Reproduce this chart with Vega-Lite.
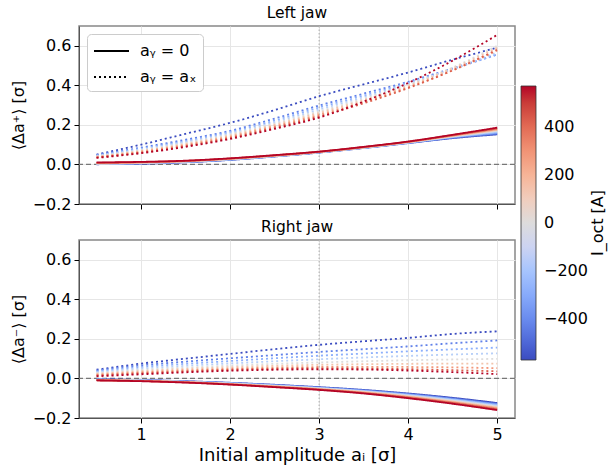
{
  "$schema": "https://vega.github.io/schema/vega-lite/v6.json",
  "padding": {"left": 9, "top": 5, "right": 5, "bottom": 5},
  "config": {
    "font": "DejaVu Sans",
    "view": {"stroke": "#888", "strokeWidth": 1.5},
    "title": {"fontSize": 15.5, "fontWeight": "normal", "offset": 4, "color": "black"},
    "axis": {"labelFontSize": 16, "titleFontSize": 16, "titleFontWeight": "normal", "labelColor": "black", "titleColor": "black", "domainColor": "#555", "tickColor": "black", "gridColor": "#e6e6e6", "gridWidth": 1, "tickSize": 5, "labelPadding": 3},
    "legend": {"labelFont": "DejaVu Sans", "titleFont": "DejaVu Sans"}
  },
  "datasets": {
    "refx": [{"x": 3}],
    "refy": [{"y": 0}],
    "left": [
      {"I":-570,"ay":"0","x":0.5,"y":0.001},{"I":-570,"ay":"0","x":1,"y":0.004},{"I":-570,"ay":"0","x":1.5,"y":0.011},{"I":-570,"ay":"0","x":2,"y":0.023},{"I":-570,"ay":"0","x":2.5,"y":0.040},{"I":-570,"ay":"0","x":3,"y":0.060},{"I":-570,"ay":"0","x":3.5,"y":0.083},{"I":-570,"ay":"0","x":4,"y":0.108},{"I":-570,"ay":"0","x":4.5,"y":0.133},{"I":-570,"ay":"0","x":5,"y":0.152},
      {"I":-427,"ay":"0","x":0.5,"y":0.002},{"I":-427,"ay":"0","x":1,"y":0.005},{"I":-427,"ay":"0","x":1.5,"y":0.012},{"I":-427,"ay":"0","x":2,"y":0.024},{"I":-427,"ay":"0","x":2.5,"y":0.041},{"I":-427,"ay":"0","x":3,"y":0.061},{"I":-427,"ay":"0","x":3.5,"y":0.084},{"I":-427,"ay":"0","x":4,"y":0.109},{"I":-427,"ay":"0","x":4.5,"y":0.135},{"I":-427,"ay":"0","x":5,"y":0.156},
      {"I":-285,"ay":"0","x":0.5,"y":0.002},{"I":-285,"ay":"0","x":1,"y":0.006},{"I":-285,"ay":"0","x":1.5,"y":0.013},{"I":-285,"ay":"0","x":2,"y":0.025},{"I":-285,"ay":"0","x":2.5,"y":0.042},{"I":-285,"ay":"0","x":3,"y":0.061},{"I":-285,"ay":"0","x":3.5,"y":0.084},{"I":-285,"ay":"0","x":4,"y":0.110},{"I":-285,"ay":"0","x":4.5,"y":0.138},{"I":-285,"ay":"0","x":5,"y":0.161},
      {"I":-142,"ay":"0","x":0.5,"y":0.003},{"I":-142,"ay":"0","x":1,"y":0.007},{"I":-142,"ay":"0","x":1.5,"y":0.014},{"I":-142,"ay":"0","x":2,"y":0.026},{"I":-142,"ay":"0","x":2.5,"y":0.042},{"I":-142,"ay":"0","x":3,"y":0.062},{"I":-142,"ay":"0","x":3.5,"y":0.085},{"I":-142,"ay":"0","x":4,"y":0.111},{"I":-142,"ay":"0","x":4.5,"y":0.140},{"I":-142,"ay":"0","x":5,"y":0.166},
      {"I":0,"ay":"0","x":0.5,"y":0.004},{"I":0,"ay":"0","x":1,"y":0.008},{"I":0,"ay":"0","x":1.5,"y":0.015},{"I":0,"ay":"0","x":2,"y":0.027},{"I":0,"ay":"0","x":2.5,"y":0.043},{"I":0,"ay":"0","x":3,"y":0.062},{"I":0,"ay":"0","x":3.5,"y":0.085},{"I":0,"ay":"0","x":4,"y":0.112},{"I":0,"ay":"0","x":4.5,"y":0.142},{"I":0,"ay":"0","x":5,"y":0.170},
      {"I":142,"ay":"0","x":0.5,"y":0.005},{"I":142,"ay":"0","x":1,"y":0.009},{"I":142,"ay":"0","x":1.5,"y":0.016},{"I":142,"ay":"0","x":2,"y":0.028},{"I":142,"ay":"0","x":2.5,"y":0.044},{"I":142,"ay":"0","x":3,"y":0.063},{"I":142,"ay":"0","x":3.5,"y":0.086},{"I":142,"ay":"0","x":4,"y":0.113},{"I":142,"ay":"0","x":4.5,"y":0.144},{"I":142,"ay":"0","x":5,"y":0.174},
      {"I":285,"ay":"0","x":0.5,"y":0.007},{"I":285,"ay":"0","x":1,"y":0.011},{"I":285,"ay":"0","x":1.5,"y":0.017},{"I":285,"ay":"0","x":2,"y":0.029},{"I":285,"ay":"0","x":2.5,"y":0.045},{"I":285,"ay":"0","x":3,"y":0.064},{"I":285,"ay":"0","x":3.5,"y":0.087},{"I":285,"ay":"0","x":4,"y":0.114},{"I":285,"ay":"0","x":4.5,"y":0.146},{"I":285,"ay":"0","x":5,"y":0.178},
      {"I":427,"ay":"0","x":0.5,"y":0.008},{"I":427,"ay":"0","x":1,"y":0.012},{"I":427,"ay":"0","x":1.5,"y":0.018},{"I":427,"ay":"0","x":2,"y":0.030},{"I":427,"ay":"0","x":2.5,"y":0.046},{"I":427,"ay":"0","x":3,"y":0.064},{"I":427,"ay":"0","x":3.5,"y":0.088},{"I":427,"ay":"0","x":4,"y":0.115},{"I":427,"ay":"0","x":4.5,"y":0.148},{"I":427,"ay":"0","x":5,"y":0.182},
      {"I":570,"ay":"0","x":0.5,"y":0.010},{"I":570,"ay":"0","x":1,"y":0.013},{"I":570,"ay":"0","x":1.5,"y":0.019},{"I":570,"ay":"0","x":2,"y":0.031},{"I":570,"ay":"0","x":2.5,"y":0.047},{"I":570,"ay":"0","x":3,"y":0.065},{"I":570,"ay":"0","x":3.5,"y":0.089},{"I":570,"ay":"0","x":4,"y":0.116},{"I":570,"ay":"0","x":4.5,"y":0.150},{"I":570,"ay":"0","x":5,"y":0.186},
      {"I":-570,"ay":"ax","x":0.5,"y":0.050},{"I":-570,"ay":"ax","x":1,"y":0.100},{"I":-570,"ay":"ax","x":1.5,"y":0.155},{"I":-570,"ay":"ax","x":2,"y":0.210},{"I":-570,"ay":"ax","x":2.5,"y":0.275},{"I":-570,"ay":"ax","x":3,"y":0.345},{"I":-570,"ay":"ax","x":3.5,"y":0.405},{"I":-570,"ay":"ax","x":4,"y":0.465},{"I":-570,"ay":"ax","x":4.5,"y":0.530},{"I":-570,"ay":"ax","x":5,"y":0.590},
      {"I":-427,"ay":"ax","x":0.5,"y":0.047},{"I":-427,"ay":"ax","x":1,"y":0.085},{"I":-427,"ay":"ax","x":1.5,"y":0.125},{"I":-427,"ay":"ax","x":2,"y":0.170},{"I":-427,"ay":"ax","x":2.5,"y":0.232},{"I":-427,"ay":"ax","x":3,"y":0.298},{"I":-427,"ay":"ax","x":3.5,"y":0.358},{"I":-427,"ay":"ax","x":4,"y":0.418},{"I":-427,"ay":"ax","x":4.5,"y":0.486},{"I":-427,"ay":"ax","x":5,"y":0.556},
      {"I":-285,"ay":"ax","x":0.5,"y":0.045},{"I":-285,"ay":"ax","x":1,"y":0.080},{"I":-285,"ay":"ax","x":1.5,"y":0.118},{"I":-285,"ay":"ax","x":2,"y":0.163},{"I":-285,"ay":"ax","x":2.5,"y":0.222},{"I":-285,"ay":"ax","x":3,"y":0.288},{"I":-285,"ay":"ax","x":3.5,"y":0.348},{"I":-285,"ay":"ax","x":4,"y":0.412},{"I":-285,"ay":"ax","x":4.5,"y":0.482},{"I":-285,"ay":"ax","x":5,"y":0.556},
      {"I":-142,"ay":"ax","x":0.5,"y":0.043},{"I":-142,"ay":"ax","x":1,"y":0.076},{"I":-142,"ay":"ax","x":1.5,"y":0.113},{"I":-142,"ay":"ax","x":2,"y":0.157},{"I":-142,"ay":"ax","x":2.5,"y":0.214},{"I":-142,"ay":"ax","x":3,"y":0.278},{"I":-142,"ay":"ax","x":3.5,"y":0.340},{"I":-142,"ay":"ax","x":4,"y":0.407},{"I":-142,"ay":"ax","x":4.5,"y":0.482},{"I":-142,"ay":"ax","x":5,"y":0.565},
      {"I":0,"ay":"ax","x":0.5,"y":0.041},{"I":0,"ay":"ax","x":1,"y":0.072},{"I":0,"ay":"ax","x":1.5,"y":0.108},{"I":0,"ay":"ax","x":2,"y":0.152},{"I":0,"ay":"ax","x":2.5,"y":0.207},{"I":0,"ay":"ax","x":3,"y":0.268},{"I":0,"ay":"ax","x":3.5,"y":0.332},{"I":0,"ay":"ax","x":4,"y":0.402},{"I":0,"ay":"ax","x":4.5,"y":0.490},{"I":0,"ay":"ax","x":5,"y":0.600},
      {"I":142,"ay":"ax","x":0.5,"y":0.039},{"I":142,"ay":"ax","x":1,"y":0.068},{"I":142,"ay":"ax","x":1.5,"y":0.103},{"I":142,"ay":"ax","x":2,"y":0.146},{"I":142,"ay":"ax","x":2.5,"y":0.200},{"I":142,"ay":"ax","x":3,"y":0.260},{"I":142,"ay":"ax","x":3.5,"y":0.325},{"I":142,"ay":"ax","x":4,"y":0.397},{"I":142,"ay":"ax","x":4.5,"y":0.485},{"I":142,"ay":"ax","x":5,"y":0.590},
      {"I":285,"ay":"ax","x":0.5,"y":0.037},{"I":285,"ay":"ax","x":1,"y":0.064},{"I":285,"ay":"ax","x":1.5,"y":0.098},{"I":285,"ay":"ax","x":2,"y":0.140},{"I":285,"ay":"ax","x":2.5,"y":0.193},{"I":285,"ay":"ax","x":3,"y":0.251},{"I":285,"ay":"ax","x":3.5,"y":0.316},{"I":285,"ay":"ax","x":4,"y":0.390},{"I":285,"ay":"ax","x":4.5,"y":0.475},{"I":285,"ay":"ax","x":5,"y":0.575},
      {"I":427,"ay":"ax","x":0.5,"y":0.035},{"I":427,"ay":"ax","x":1,"y":0.060},{"I":427,"ay":"ax","x":1.5,"y":0.093},{"I":427,"ay":"ax","x":2,"y":0.134},{"I":427,"ay":"ax","x":2.5,"y":0.186},{"I":427,"ay":"ax","x":3,"y":0.243},{"I":427,"ay":"ax","x":3.5,"y":0.309},{"I":427,"ay":"ax","x":4,"y":0.386},{"I":427,"ay":"ax","x":4.5,"y":0.476},{"I":427,"ay":"ax","x":5,"y":0.580},
      {"I":570,"ay":"ax","x":0.5,"y":0.033},{"I":570,"ay":"ax","x":1,"y":0.057},{"I":570,"ay":"ax","x":1.5,"y":0.089},{"I":570,"ay":"ax","x":2,"y":0.129},{"I":570,"ay":"ax","x":2.5,"y":0.180},{"I":570,"ay":"ax","x":3,"y":0.237},{"I":570,"ay":"ax","x":3.5,"y":0.318},{"I":570,"ay":"ax","x":4,"y":0.412},{"I":570,"ay":"ax","x":4.5,"y":0.525},{"I":570,"ay":"ax","x":5,"y":0.655}
    ],
    "right": [
      {"I":-570,"ay":"0","x":0.5,"y":-0.004},{"I":-570,"ay":"0","x":1,"y":-0.008},{"I":-570,"ay":"0","x":1.5,"y":-0.014},{"I":-570,"ay":"0","x":2,"y":-0.022},{"I":-570,"ay":"0","x":2.5,"y":-0.032},{"I":-570,"ay":"0","x":3,"y":-0.044},{"I":-570,"ay":"0","x":3.5,"y":-0.058},{"I":-570,"ay":"0","x":4,"y":-0.076},{"I":-570,"ay":"0","x":4.5,"y":-0.098},{"I":-570,"ay":"0","x":5,"y":-0.124},
      {"I":-427,"ay":"0","x":0.5,"y":-0.005},{"I":-427,"ay":"0","x":1,"y":-0.009},{"I":-427,"ay":"0","x":1.5,"y":-0.015},{"I":-427,"ay":"0","x":2,"y":-0.023},{"I":-427,"ay":"0","x":2.5,"y":-0.034},{"I":-427,"ay":"0","x":3,"y":-0.046},{"I":-427,"ay":"0","x":3.5,"y":-0.060},{"I":-427,"ay":"0","x":4,"y":-0.079},{"I":-427,"ay":"0","x":4.5,"y":-0.102},{"I":-427,"ay":"0","x":5,"y":-0.129},
      {"I":-285,"ay":"0","x":0.5,"y":-0.006},{"I":-285,"ay":"0","x":1,"y":-0.010},{"I":-285,"ay":"0","x":1.5,"y":-0.016},{"I":-285,"ay":"0","x":2,"y":-0.024},{"I":-285,"ay":"0","x":2.5,"y":-0.035},{"I":-285,"ay":"0","x":3,"y":-0.048},{"I":-285,"ay":"0","x":3.5,"y":-0.063},{"I":-285,"ay":"0","x":4,"y":-0.082},{"I":-285,"ay":"0","x":4.5,"y":-0.106},{"I":-285,"ay":"0","x":5,"y":-0.133},
      {"I":-142,"ay":"0","x":0.5,"y":-0.006},{"I":-142,"ay":"0","x":1,"y":-0.010},{"I":-142,"ay":"0","x":1.5,"y":-0.017},{"I":-142,"ay":"0","x":2,"y":-0.025},{"I":-142,"ay":"0","x":2.5,"y":-0.037},{"I":-142,"ay":"0","x":3,"y":-0.049},{"I":-142,"ay":"0","x":3.5,"y":-0.065},{"I":-142,"ay":"0","x":4,"y":-0.085},{"I":-142,"ay":"0","x":4.5,"y":-0.109},{"I":-142,"ay":"0","x":5,"y":-0.138},
      {"I":0,"ay":"0","x":0.5,"y":-0.007},{"I":0,"ay":"0","x":1,"y":-0.011},{"I":0,"ay":"0","x":1.5,"y":-0.018},{"I":0,"ay":"0","x":2,"y":-0.027},{"I":0,"ay":"0","x":2.5,"y":-0.038},{"I":0,"ay":"0","x":3,"y":-0.051},{"I":0,"ay":"0","x":3.5,"y":-0.067},{"I":0,"ay":"0","x":4,"y":-0.088},{"I":0,"ay":"0","x":4.5,"y":-0.113},{"I":0,"ay":"0","x":5,"y":-0.142},
      {"I":142,"ay":"0","x":0.5,"y":-0.008},{"I":142,"ay":"0","x":1,"y":-0.012},{"I":142,"ay":"0","x":1.5,"y":-0.018},{"I":142,"ay":"0","x":2,"y":-0.028},{"I":142,"ay":"0","x":2.5,"y":-0.040},{"I":142,"ay":"0","x":3,"y":-0.053},{"I":142,"ay":"0","x":3.5,"y":-0.069},{"I":142,"ay":"0","x":4,"y":-0.091},{"I":142,"ay":"0","x":4.5,"y":-0.117},{"I":142,"ay":"0","x":5,"y":-0.147},
      {"I":285,"ay":"0","x":0.5,"y":-0.009},{"I":285,"ay":"0","x":1,"y":-0.013},{"I":285,"ay":"0","x":1.5,"y":-0.019},{"I":285,"ay":"0","x":2,"y":-0.029},{"I":285,"ay":"0","x":2.5,"y":-0.041},{"I":285,"ay":"0","x":3,"y":-0.055},{"I":285,"ay":"0","x":3.5,"y":-0.072},{"I":285,"ay":"0","x":4,"y":-0.094},{"I":285,"ay":"0","x":4.5,"y":-0.121},{"I":285,"ay":"0","x":5,"y":-0.151},
      {"I":427,"ay":"0","x":0.5,"y":-0.009},{"I":427,"ay":"0","x":1,"y":-0.013},{"I":427,"ay":"0","x":1.5,"y":-0.020},{"I":427,"ay":"0","x":2,"y":-0.030},{"I":427,"ay":"0","x":2.5,"y":-0.043},{"I":427,"ay":"0","x":3,"y":-0.056},{"I":427,"ay":"0","x":3.5,"y":-0.074},{"I":427,"ay":"0","x":4,"y":-0.097},{"I":427,"ay":"0","x":4.5,"y":-0.124},{"I":427,"ay":"0","x":5,"y":-0.156},
      {"I":570,"ay":"0","x":0.5,"y":-0.010},{"I":570,"ay":"0","x":1,"y":-0.014},{"I":570,"ay":"0","x":1.5,"y":-0.021},{"I":570,"ay":"0","x":2,"y":-0.031},{"I":570,"ay":"0","x":2.5,"y":-0.044},{"I":570,"ay":"0","x":3,"y":-0.058},{"I":570,"ay":"0","x":3.5,"y":-0.076},{"I":570,"ay":"0","x":4,"y":-0.100},{"I":570,"ay":"0","x":4.5,"y":-0.128},{"I":570,"ay":"0","x":5,"y":-0.160},
      {"I":-570,"ay":"ax","x":0.5,"y":0.044},{"I":-570,"ay":"ax","x":1,"y":0.075},{"I":-570,"ay":"ax","x":1.5,"y":0.100},{"I":-570,"ay":"ax","x":2,"y":0.124},{"I":-570,"ay":"ax","x":2.5,"y":0.148},{"I":-570,"ay":"ax","x":3,"y":0.170},{"I":-570,"ay":"ax","x":3.5,"y":0.188},{"I":-570,"ay":"ax","x":4,"y":0.205},{"I":-570,"ay":"ax","x":4.5,"y":0.225},{"I":-570,"ay":"ax","x":5,"y":0.238},
      {"I":-427,"ay":"ax","x":0.5,"y":0.040},{"I":-427,"ay":"ax","x":1,"y":0.066},{"I":-427,"ay":"ax","x":1.5,"y":0.085},{"I":-427,"ay":"ax","x":2,"y":0.102},{"I":-427,"ay":"ax","x":2.5,"y":0.118},{"I":-427,"ay":"ax","x":3,"y":0.134},{"I":-427,"ay":"ax","x":3.5,"y":0.148},{"I":-427,"ay":"ax","x":4,"y":0.162},{"I":-427,"ay":"ax","x":4.5,"y":0.178},{"I":-427,"ay":"ax","x":5,"y":0.192},
      {"I":-285,"ay":"ax","x":0.5,"y":0.035},{"I":-285,"ay":"ax","x":1,"y":0.058},{"I":-285,"ay":"ax","x":1.5,"y":0.074},{"I":-285,"ay":"ax","x":2,"y":0.088},{"I":-285,"ay":"ax","x":2.5,"y":0.102},{"I":-285,"ay":"ax","x":3,"y":0.115},{"I":-285,"ay":"ax","x":3.5,"y":0.126},{"I":-285,"ay":"ax","x":4,"y":0.137},{"I":-285,"ay":"ax","x":4.5,"y":0.147},{"I":-285,"ay":"ax","x":5,"y":0.156},
      {"I":-142,"ay":"ax","x":0.5,"y":0.031},{"I":-142,"ay":"ax","x":1,"y":0.050},{"I":-142,"ay":"ax","x":1.5,"y":0.064},{"I":-142,"ay":"ax","x":2,"y":0.076},{"I":-142,"ay":"ax","x":2.5,"y":0.087},{"I":-142,"ay":"ax","x":3,"y":0.097},{"I":-142,"ay":"ax","x":3.5,"y":0.106},{"I":-142,"ay":"ax","x":4,"y":0.114},{"I":-142,"ay":"ax","x":4.5,"y":0.121},{"I":-142,"ay":"ax","x":5,"y":0.127},
      {"I":0,"ay":"ax","x":0.5,"y":0.027},{"I":0,"ay":"ax","x":1,"y":0.043},{"I":0,"ay":"ax","x":1.5,"y":0.055},{"I":0,"ay":"ax","x":2,"y":0.065},{"I":0,"ay":"ax","x":2.5,"y":0.074},{"I":0,"ay":"ax","x":3,"y":0.081},{"I":0,"ay":"ax","x":3.5,"y":0.087},{"I":0,"ay":"ax","x":4,"y":0.092},{"I":0,"ay":"ax","x":4.5,"y":0.096},{"I":0,"ay":"ax","x":5,"y":0.099},
      {"I":142,"ay":"ax","x":0.5,"y":0.023},{"I":142,"ay":"ax","x":1,"y":0.037},{"I":142,"ay":"ax","x":1.5,"y":0.048},{"I":142,"ay":"ax","x":2,"y":0.057},{"I":142,"ay":"ax","x":2.5,"y":0.064},{"I":142,"ay":"ax","x":3,"y":0.069},{"I":142,"ay":"ax","x":3.5,"y":0.072},{"I":142,"ay":"ax","x":4,"y":0.074},{"I":142,"ay":"ax","x":4.5,"y":0.075},{"I":142,"ay":"ax","x":5,"y":0.075},
      {"I":285,"ay":"ax","x":0.5,"y":0.019},{"I":285,"ay":"ax","x":1,"y":0.031},{"I":285,"ay":"ax","x":1.5,"y":0.041},{"I":285,"ay":"ax","x":2,"y":0.049},{"I":285,"ay":"ax","x":2.5,"y":0.055},{"I":285,"ay":"ax","x":3,"y":0.058},{"I":285,"ay":"ax","x":3.5,"y":0.059},{"I":285,"ay":"ax","x":4,"y":0.058},{"I":285,"ay":"ax","x":4.5,"y":0.056},{"I":285,"ay":"ax","x":5,"y":0.052},
      {"I":427,"ay":"ax","x":0.5,"y":0.015},{"I":427,"ay":"ax","x":1,"y":0.026},{"I":427,"ay":"ax","x":1.5,"y":0.036},{"I":427,"ay":"ax","x":2,"y":0.044},{"I":427,"ay":"ax","x":2.5,"y":0.049},{"I":427,"ay":"ax","x":3,"y":0.051},{"I":427,"ay":"ax","x":3.5,"y":0.050},{"I":427,"ay":"ax","x":4,"y":0.047},{"I":427,"ay":"ax","x":4.5,"y":0.042},{"I":427,"ay":"ax","x":5,"y":0.036},
      {"I":570,"ay":"ax","x":0.5,"y":0.011},{"I":570,"ay":"ax","x":1,"y":0.021},{"I":570,"ay":"ax","x":1.5,"y":0.031},{"I":570,"ay":"ax","x":2,"y":0.039},{"I":570,"ay":"ax","x":2.5,"y":0.044},{"I":570,"ay":"ax","x":3,"y":0.046},{"I":570,"ay":"ax","x":3.5,"y":0.045},{"I":570,"ay":"ax","x":4,"y":0.040},{"I":570,"ay":"ax","x":4.5,"y":0.032},{"I":570,"ay":"ax","x":5,"y":0.022}
    ]
  },
  "spacing": 6,
  "resolve": {"scale": {"color": "shared", "strokeDash": "shared"}, "legend": {"strokeDash": "independent", "color": "shared"}},
  "vconcat": [
    {
      "title": "Left jaw",
      "width": 436,
      "height": 178,
      "layer": [
        {
          "data": {"name": "refx"},
          "mark": {"type": "rule", "color": "#aaaaaa", "strokeDash": [1.5, 2], "strokeWidth": 1},
          "encoding": {"x": {"field": "x", "type": "quantitative", "scale": {"domain": [0.303, 5.2]}}}
        },
        {
          "data": {"name": "refy"},
          "mark": {"type": "rule", "color": "#777777", "strokeDash": [5, 3], "strokeWidth": 1.2},
          "encoding": {"y": {"field": "y", "type": "quantitative", "scale": {"domain": [-0.2, 0.7]}}}
        },
        {
          "data": {"name": "left"},
          "mark": {"type": "line", "strokeWidth": 1.8, "interpolate": "monotone", "clip": true},
          "encoding": {
            "x": {"field": "x", "type": "quantitative", "scale": {"domain": [0.303, 5.2], "nice": false, "zero": false},
              "axis": {"values": [1, 2, 3, 4, 5], "labels": false, "title": null, "grid": true}},
            "y": {"field": "y", "type": "quantitative", "scale": {"domain": [-0.2, 0.7], "nice": false, "zero": false},
              "axis": {"values": [-0.2, 0, 0.2, 0.4, 0.6], "format": ".1f", "title": "⟨Δa⁺⟩ [σ]", "titlePadding": 6, "grid": true}},
            "detail": {"field": "I", "type": "quantitative"},
            "color": {"field": "I", "type": "quantitative",
              "scale": {"domain": [-570, -456, -342, -228, -114, 0, 114, 228, 342, 456, 570], "range": ["#3b4cc0", "#5977e3", "#7b9ff9", "#9ebeff", "#c0d4f5", "#dddcdc", "#f2cbb7", "#f7ac8e", "#ee8468", "#d65244", "#b40426"]},
              "legend": {"orient": "none", "legendX": 442, "legendY": 60, "direction": "vertical", "gradientLength": 274, "gradientThickness": 15, "values": [-400, -200, 0, 200, 400], "format": "d", "labelFontSize": 16, "labelOffset": 8, "labelColor": "black", "title": "I_oct [A]", "titleOrient": "right", "titlePadding": 18, "titleFontSize": 16, "titleFontWeight": "normal", "titleColor": "black", "titleAnchor": "middle", "gradientStrokeColor": "#333", "gradientStrokeWidth": 0.8,
                "encode": {"title": {"update": {"angle": {"value": 270}, "baseline": {"value": "bottom"}}}}}},
            "strokeDash": {"field": "ay", "type": "nominal",
              "scale": {"domain": ["0", "ax"], "range": [[1, 0], [2, 3]]},
              "legend": {"orient": "top-left", "offset": 8, "title": null, "symbolType": "M-1,0H2.5", "symbolSize": 400, "symbolStrokeWidth": 1.8, "symbolStrokeColor": "black", "labelFontSize": 16, "labelColor": "black", "labelOffset": 25, "labelExpr": "datum.label == '0' ? 'aᵧ = 0' : 'aᵧ = aₓ'", "fillColor": "white", "strokeColor": "#cccccc", "padding": 6, "cornerRadius": 4, "rowPadding": 7}}
          }
        }
      ]
    },
    {
      "title": "Right jaw",
      "width": 436,
      "height": 178,
      "layer": [
        {
          "data": {"name": "refx"},
          "mark": {"type": "rule", "color": "#aaaaaa", "strokeDash": [1.5, 2], "strokeWidth": 1},
          "encoding": {"x": {"field": "x", "type": "quantitative", "scale": {"domain": [0.303, 5.2]}}}
        },
        {
          "data": {"name": "refy"},
          "mark": {"type": "rule", "color": "#777777", "strokeDash": [5, 3], "strokeWidth": 1.2},
          "encoding": {"y": {"field": "y", "type": "quantitative", "scale": {"domain": [-0.2, 0.7]}}}
        },
        {
          "data": {"name": "right"},
          "mark": {"type": "line", "strokeWidth": 1.8, "interpolate": "monotone", "clip": true},
          "encoding": {
            "x": {"field": "x", "type": "quantitative", "scale": {"domain": [0.303, 5.2], "nice": false, "zero": false},
              "axis": {"values": [1, 2, 3, 4, 5], "format": "d", "title": "Initial amplitude aᵢ [σ]", "titleFontSize": 18, "titlePadding": 4, "grid": true}},
            "y": {"field": "y", "type": "quantitative", "scale": {"domain": [-0.2, 0.7], "nice": false, "zero": false},
              "axis": {"values": [-0.2, 0, 0.2, 0.4, 0.6], "format": ".1f", "title": "⟨Δa⁻⟩ [σ]", "titlePadding": 6, "grid": true}},
            "detail": {"field": "I", "type": "quantitative"},
            "color": {"field": "I", "type": "quantitative",
              "scale": {"domain": [-570, -456, -342, -228, -114, 0, 114, 228, 342, 456, 570], "range": ["#3b4cc0", "#5977e3", "#7b9ff9", "#9ebeff", "#c0d4f5", "#dddcdc", "#f2cbb7", "#f7ac8e", "#ee8468", "#d65244", "#b40426"]}},
            "strokeDash": {"field": "ay", "type": "nominal",
              "scale": {"domain": ["0", "ax"], "range": [[1, 0], [2, 3]]}, "legend": null}
          }
        }
      ]
    }
  ]
}
